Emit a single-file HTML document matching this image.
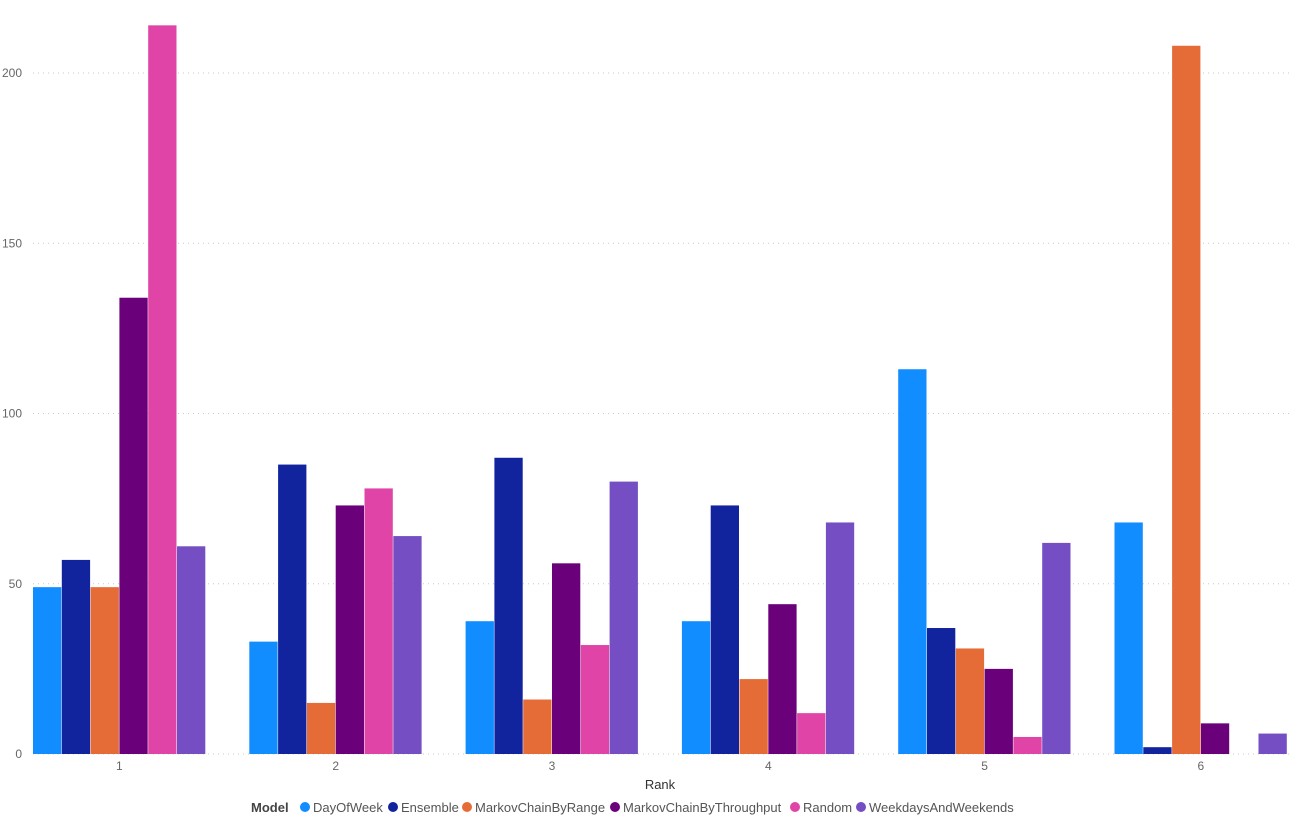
<!DOCTYPE html>
<html><head><meta charset="utf-8"><style>
body{margin:0;background:#fff;width:1291px;height:818px;overflow:hidden;font-family:"Liberation Sans",sans-serif}
svg text{font-family:"Liberation Sans",sans-serif}
</style></head><body>
<svg id="chart" width="1291" height="818"></svg>
<script>
const categories=["1","2","3","4","5","6"];
const seriesNames=["DayOfWeek","Ensemble","MarkovChainByRange","MarkovChainByThroughput","Random","WeekdaysAndWeekends"];
const seriesColors=["#118DFF","#12239E","#E66C37","#6B007B","#E044A7","#744EC2"];
const dayOfWeek=[49,33,39,39,113,68];
const ensemble=[57,85,87,73,37,2];
const markovRange=[49,15,16,22,31,208];
const markovThroughput=[134,73,56,44,25,9];
const randomVals=[214,78,32,12,5,0];
const weekdays=[61,64,80,68,62,6];
const yTicks=[0,50,100,150,200];
const series=[dayOfWeek,ensemble,markovRange,markovThroughput,randomVals,weekdays];
const NS="http://www.w3.org/2000/svg";
const svg=document.getElementById('chart');
const y0=754,yScale=(754-73)/200;
const y=v=>y0-v*yScale;
const groupStart=33,groupStep=216.3,barW=28.8;
const x=(gi,si)=>groupStart+gi*groupStep+si*barW;
function mk(t,a){const e=document.createElementNS(NS,t);for(const k in a)e.setAttribute(k,a[k]);svg.appendChild(e);return e;}
yTicks.forEach(t=>{
  const l=mk('line',{x1:33,x2:1291,y1:y(t),y2:y(t),stroke:'#c8c8c8','stroke-dasharray':'1,4','stroke-width':1});
  
  
  const tx=mk('text',{x:22,y:y(t)+4,'text-anchor':'end','font-size':12,fill:'#666'});
  tx.textContent=t;
  
  
});
series.forEach((vals,si)=>{
  vals.forEach((v,gi)=>{
    const r=mk('rect',{x:x(gi,si),y:y(v),width:barW-0.5,height:v*yScale,fill:seriesColors[si]});
    
    
  });
});
categories.forEach((c,gi)=>{
  const t=mk('text',{x:groupStart+gi*groupStep+barW*3,y:770,'text-anchor':'middle','font-size':12,fill:'#666'});
  t.textContent=c;
  
  
});
const xt=mk('text',{x:660,y:789,'text-anchor':'middle','font-size':13,fill:'#333'});
xt.textContent='Rank';


const lt=mk('text',{x:251,y:812,'font-size':13,'font-weight':'bold',fill:'#444'});
lt.textContent='Model';


let lx=300;
const lxs=[300,388,462,610,790,856];
seriesNames.forEach((n,i)=>{
  const cx=lxs[i];
  const c=mk('circle',{cx:cx+5,cy:807,r:5,fill:seriesColors[i]});
  
  
  const t=mk('text',{x:cx+13,y:812,'font-size':13,fill:'#555'});
  t.textContent=n;
  
  
});
</script>
</body></html>
